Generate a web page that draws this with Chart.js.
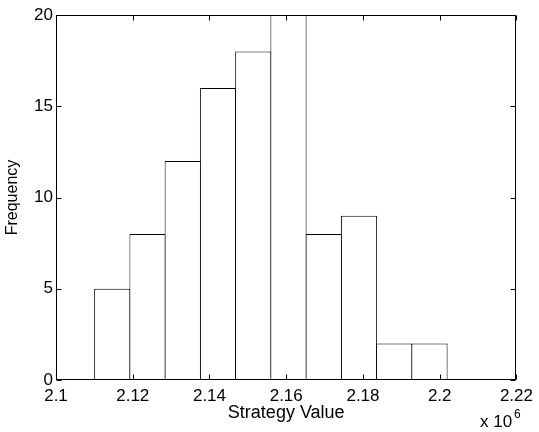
<!DOCTYPE html>
<html>
<head>
<meta charset="utf-8">
<title>Strategy Value histogram</title>
<script src="https://cdn.jsdelivr.net/npm/chart.js@4"></script>
<style>
  body { margin: 0; background: #fff; }
  canvas { display: block; }
</style>
</head>
<body>
<canvas id="hist-chart" width="539" height="432"></canvas>
<script>
// Histogram bins (centres, in units of 10^6) and their counts
let binCenters = [2.11466, 2.12385, 2.13303, 2.14222, 2.15141, 2.16059, 2.16978, 2.17897, 2.18815, 2.19734];
let binCounts = [5, 8, 12, 16, 18, 20, 8, 9, 2, 2];

// Axis ticks
let xTicks = [2.1, 2.12, 2.14, 2.16, 2.18, 2.2, 2.22];
let yTicks = [0, 5, 10, 15, 20];

let fontFamily = "'Liberation Sans', Arial, sans-serif";
Chart.defaults.color = '#000';
Chart.defaults.font.family = fontFamily;
Chart.defaults.font.size = 17;

// Draws the MATLAB style box, inward ticks and the x 10^6 exponent
let boxPlugin = {
    id: 'box',
    afterDraw(chart) {
        const ctx = chart.ctx;
        const area = chart.chartArea;
        const xs = chart.scales.x;
        const ys = chart.scales.y;
        const l = Math.round(area.left) + 0.5, r = Math.round(area.right) - 0.5;
        const t = Math.round(area.top) + 0.5, b = Math.round(area.bottom) - 0.5;
        const tl = 5;

        ctx.save();
        ctx.strokeStyle = '#000';
        ctx.lineWidth = 1;
        ctx.strokeRect(l, t, r - l, b - t);

        ctx.beginPath();
        xTicks.forEach(v => {
            const px = Math.round(xs.getPixelForValue(v)) + 0.5;
            ctx.moveTo(px, b); ctx.lineTo(px, b - tl);
            ctx.moveTo(px, t); ctx.lineTo(px, t + tl);
        });
        yTicks.forEach(v => {
            const py = Math.round(ys.getPixelForValue(v)) + 0.5;
            ctx.moveTo(l, py); ctx.lineTo(l + tl, py);
            ctx.moveTo(r, py); ctx.lineTo(r - tl, py);
        });
        ctx.stroke();

        ctx.fillStyle = '#000';
        ctx.textBaseline = 'alphabetic';
        ctx.textAlign = 'left';
        ctx.font = '17px ' + fontFamily;
        ctx.fillText('x 10', 480, 427);
        ctx.font = '12px ' + fontFamily;
        ctx.fillText('6', 514, 418);
        ctx.restore();
    }
};

let histChart = new Chart(document.getElementById('hist-chart'), {
    type: 'bar',
    data: {
        datasets: [
            {
                data: binCenters.map((c, i) => ({ x: c, y: binCounts[i] })),
                backgroundColor: '#fff',
                borderColor: '#000',
                borderWidth: 1,
                borderSkipped: false,
                categoryPercentage: 1,
                barPercentage: 1.028
            }
        ]
    },
    options: {
        responsive: false,
        animation: false,
        layout: { padding: { top: 15, right: 18, left: 0, bottom: 0 } },
        plugins: {
            legend: { display: false },
            tooltip: { enabled: false }
        },
        scales: {
            x: {
                type: 'linear',
                offset: false,
                min: 2.1,
                max: 2.22,
                afterBuildTicks: scale => { scale.ticks = xTicks.map(v => ({ value: v })); },
                afterFit: scale => { scale.height = 52; },
                ticks: {
                    padding: 6,
                    maxRotation: 0,
                    callback: v => String(Math.round(v * 100) / 100)
                },
                grid: { display: false, drawTicks: false },
                border: { display: false },
                title: {
                    display: true,
                    text: 'Strategy Value',
                    font: { size: 18 },
                    padding: { top: 0, bottom: 8 }
                }
            },
            y: {
                min: 0,
                max: 20,
                afterBuildTicks: scale => { scale.ticks = yTicks.map(v => ({ value: v })); },
                afterFit: scale => { scale.width = 56; },
                ticks: { padding: 3 },
                grid: { display: false, drawTicks: false },
                border: { display: false },
                title: {
                    display: true,
                    text: 'Frequency',
                    font: { size: 16 },
                    padding: { top: 3, bottom: 0 }
                }
            }
        }
    },
    plugins: [boxPlugin]
});
</script>
</body>
</html>
